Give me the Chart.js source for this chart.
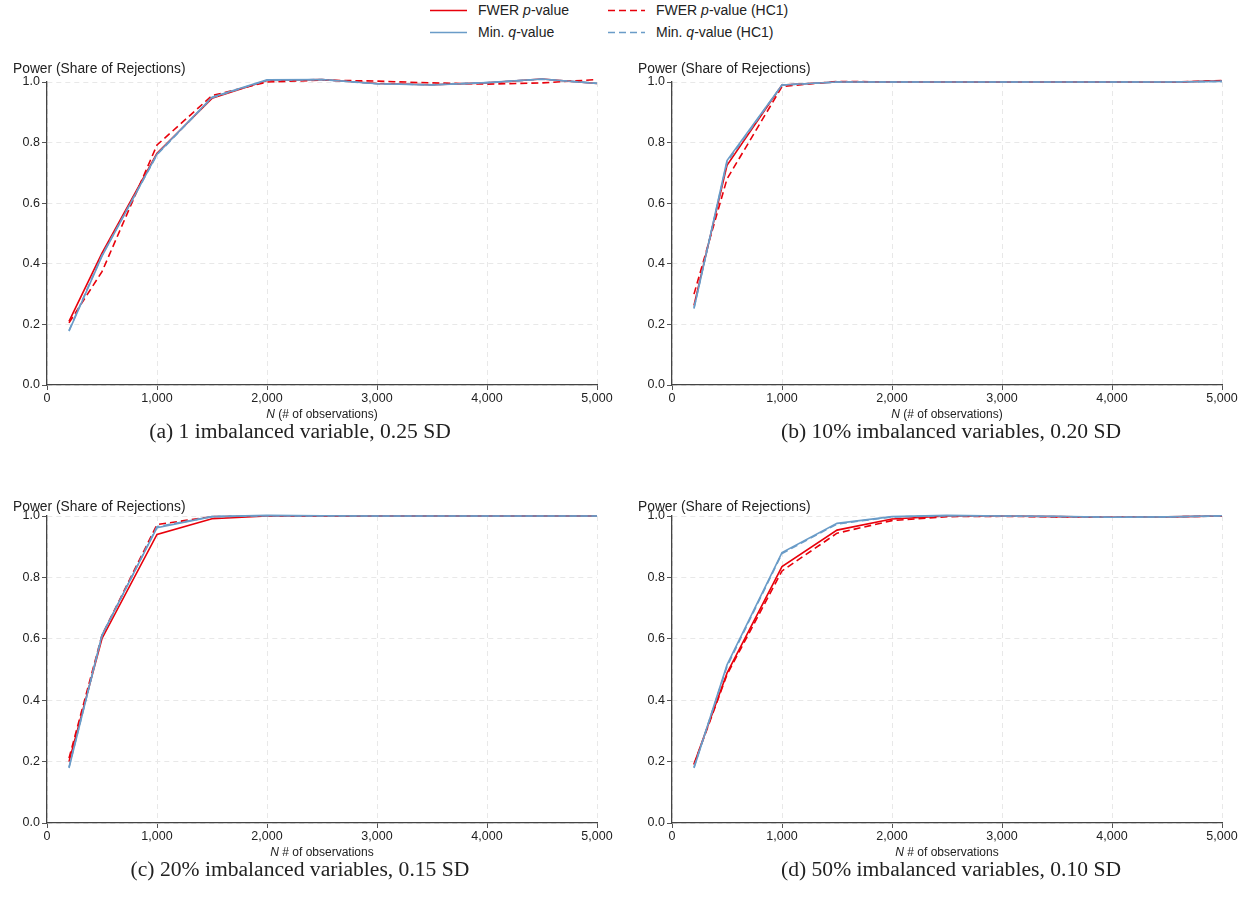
<!DOCTYPE html>
<html>
<head>
<meta charset="utf-8">
<script src="https://cdn.jsdelivr.net/npm/chart.js@4/dist/chart.umd.min.js"></script>
<style>
  body { margin: 0; background: #fff; width: 1240px; height: 910px; position: relative; overflow: hidden;
         font-family: "Liberation Sans", Arial, sans-serif; color: #222; }
  canvas { position: absolute; }
  .ytitle { position: absolute; font-size: 13.8px; line-height: 14px; white-space: nowrap; }
  .xtitle { position: absolute; font-size: 12px; text-align: center; width: 550px; white-space: nowrap; }
  .caption { position: absolute; font-family: "Liberation Serif", "DejaVu Serif", serif; font-size: 21.6px;
             text-align: center; width: 620px; white-space: nowrap; }
  #legend { position: absolute; left: 430px; top: 1px; font-size: 14px; }
  .leg { position: absolute; white-space: nowrap; line-height: 18px; }
  .leg svg { position: absolute; left: 0; top: 8px; }
  .leg span { position: absolute; left: 48px; top: 0; }
</style>
</head>
<body>

<div id="legend">
  <div class="leg" style="left:0;top:0"><svg width="40" height="3"><line x1="0" y1="1.5" x2="37" y2="1.5" stroke="#e8000b" stroke-width="1.6"/></svg><span>FWER <i>p</i>-value</span></div>
  <div class="leg" style="left:178px;top:0"><svg width="40" height="3"><line x1="0" y1="1.5" x2="37" y2="1.5" stroke="#e8000b" stroke-width="1.6" stroke-dasharray="7,4"/></svg><span>FWER <i>p</i>-value (HC1)</span></div>
  <div class="leg" style="left:0;top:22px"><svg width="40" height="3"><line x1="0" y1="1.5" x2="37" y2="1.5" stroke="#6a9cc8" stroke-width="1.6"/></svg><span>Min. <i>q</i>-value</span></div>
  <div class="leg" style="left:178px;top:22px"><svg width="40" height="3"><line x1="0" y1="1.5" x2="37" y2="1.5" stroke="#6a9cc8" stroke-width="1.6" stroke-dasharray="7,4"/></svg><span>Min. <i>q</i>-value (HC1)</span></div>
</div>

<canvas id="ca" style="left:0;top:70px" width="620" height="340"></canvas>
<canvas id="cb" style="left:625px;top:70px" width="620" height="340"></canvas>
<canvas id="cc" style="left:0;top:504px" width="620" height="344"></canvas>
<canvas id="cd" style="left:625px;top:504px" width="620" height="344"></canvas>

<div class="ytitle" style="left:13px;top:62px">Power (Share of Rejections)</div>
<div class="ytitle" style="left:638px;top:62px">Power (Share of Rejections)</div>
<div class="ytitle" style="left:13px;top:500px">Power (Share of Rejections)</div>
<div class="ytitle" style="left:638px;top:500px">Power (Share of Rejections)</div>

<div class="xtitle" style="left:47px;top:407px"><i>N</i> (# of observations)</div>
<div class="xtitle" style="left:672px;top:407px"><i>N</i> (# of observations)</div>
<div class="xtitle" style="left:47px;top:845px"><i>N</i> # of observations</div>
<div class="xtitle" style="left:672px;top:845px"><i>N</i> # of observations</div>

<div class="caption" style="left:-10px;top:419px">(a) 1 imbalanced variable, 0.25 SD</div>
<div class="caption" style="left:641px;top:419px">(b) 10% imbalanced variables, 0.20 SD</div>
<div class="caption" style="left:-10px;top:857px">(c) 20% imbalanced variables, 0.15 SD</div>
<div class="caption" style="left:641px;top:857px">(d) 50% imbalanced variables, 0.10 SD</div>

<script>
// ==========================
// DATA
// ==========================
var nObs = [200, 500, 1000, 1500, 2000, 2500, 3000, 3500, 4000, 4500, 5000];

var xTicks = [0, 1000, 2000, 3000, 4000, 5000];
var xTickLabels = ['0', '1,000', '2,000', '3,000', '4,000', '5,000'];
var yTickLabels = ['0.0', '0.2', '0.4', '0.6', '0.8', '1.0'];

// (a) 1 imbalanced variable, 0.25 SD
var aFwer    = [0.210, 0.435, 0.765, 0.946, 1.005, 1.008, 0.995, 0.991, 0.997, 1.010, 0.995];
var aFwerHc1 = [0.205, 0.374, 0.792, 0.955, 1.000, 1.006, 1.003, 0.997, 0.993, 0.997, 1.008];
var aMinQ    = [0.178, 0.425, 0.762, 0.950, 1.007, 1.008, 0.994, 0.990, 0.998, 1.010, 0.995];
var aMinQHc1 = [0.180, 0.428, 0.760, 0.948, 1.006, 1.008, 0.994, 0.991, 0.998, 1.009, 0.996];

// (b) 10% imbalanced variables, 0.20 SD
var bFwer    = [0.263, 0.725, 0.990, 1.000, 1.000, 1.000, 1.000, 1.000, 1.000, 0.999, 1.004];
var bFwerHc1 = [0.300, 0.680, 0.985, 1.002, 1.000, 1.000, 0.999, 1.000, 1.000, 0.999, 1.005];
var bMinQ    = [0.252, 0.741, 0.990, 1.000, 1.000, 1.000, 1.000, 1.000, 1.000, 1.000, 1.002];
var bMinQHc1 = [0.255, 0.735, 0.990, 1.000, 1.000, 1.000, 1.000, 1.000, 1.000, 1.000, 1.002];

// (c) 20% imbalanced variables, 0.15 SD
var cFwer    = [0.200, 0.601, 0.940, 0.991, 1.000, 1.000, 1.000, 1.000, 1.000, 1.000, 1.000];
var cFwerHc1 = [0.211, 0.612, 0.972, 0.998, 1.000, 1.000, 1.000, 1.000, 1.000, 1.000, 1.000];
var cMinQ    = [0.179, 0.612, 0.962, 0.998, 1.002, 1.001, 1.000, 1.000, 1.000, 1.000, 1.000];
var cMinQHc1 = [0.182, 0.610, 0.965, 0.998, 1.001, 1.000, 1.000, 1.000, 1.000, 1.000, 1.000];

// (d) 50% imbalanced variables, 0.10 SD
var dFwer    = [0.192, 0.488, 0.835, 0.954, 0.990, 1.000, 1.000, 0.998, 0.996, 0.997, 1.000];
var dFwerHc1 = [0.190, 0.483, 0.821, 0.944, 0.985, 0.998, 0.999, 0.997, 0.996, 0.997, 1.000];
var dMinQ    = [0.179, 0.515, 0.881, 0.976, 0.998, 1.002, 1.000, 0.999, 0.996, 0.997, 1.001];
var dMinQHc1 = [0.182, 0.510, 0.878, 0.974, 0.997, 1.001, 1.000, 0.998, 0.996, 0.997, 1.000];

// ==========================
// STYLE
// ==========================
var RED  = '#e8000b';
var BLUE = '#6a9cc8';

function pts(vals) {
  return vals.map(function(v, i) { return { x: nObs[i], y: v }; });
}

// order: lower number is drawn on top, so the blue lines sit over the red ones
function line(vals, color, dashed, order) {
  return {
    data: pts(vals),
    borderColor: color,
    backgroundColor: color,
    borderWidth: 1.6,
    borderDash: dashed ? [7, 4] : [],
    pointRadius: 0,
    tension: 0,
    clip: false,
    order: order
  };
}

function makePanel(id, fwer, fwerHc1, minQ, minQHc1) {
  new Chart(document.getElementById(id), {
    type: 'line',
    data: {
      datasets: [
        line(fwer, RED, false, 3),
        line(fwerHc1, RED, true, 2),
        line(minQ, BLUE, false, 1),
        line(minQHc1, BLUE, true, 0)
      ]
    },
    options: {
      responsive: false,
      animation: false,
      layout: { padding: { left: 7, right: 23, top: 12, bottom: 3 } },
      plugins: { legend: { display: false }, tooltip: { enabled: false } },
      scales: {
        x: {
          type: 'linear',
          min: 0, max: 5000,
          afterFit: function(s) { s.height = 22; },
          afterBuildTicks: function(s) { s.ticks = xTicks.map(function(v) { return { value: v }; }); },
          ticks: {
            color: '#222', font: { family: 'Liberation Sans', size: 12.5 }, padding: 1, maxRotation: 0,
            callback: function(v) { return xTickLabels[xTicks.indexOf(v)]; }
          },
          grid: { color: '#e8e8e8', tickColor: '#555', tickLength: 5, lineWidth: 1 },
          border: { color: '#444', width: 1.3, dash: [5, 4] }
        },
        y: {
          min: 0, max: 1,
          afterFit: function(s) { s.width = 40; },
          afterBuildTicks: function(s) { s.ticks = [0, 0.2, 0.4, 0.6, 0.8, 1].map(function(v) { return { value: v }; }); },
          ticks: {
            color: '#222', font: { family: 'Liberation Sans', size: 12.5 }, padding: 2,
            callback: function(v, i) { return yTickLabels[i]; }
          },
          grid: { color: '#e8e8e8', tickColor: '#555', tickLength: 5, lineWidth: 1 },
          border: { color: '#444', width: 1.3, dash: [5, 4] }
        }
      }
    }
  });
}

makePanel('ca', aFwer, aFwerHc1, aMinQ, aMinQHc1);
makePanel('cb', bFwer, bFwerHc1, bMinQ, bMinQHc1);
makePanel('cc', cFwer, cFwerHc1, cMinQ, cMinQHc1);
makePanel('cd', dFwer, dFwerHc1, dMinQ, dMinQHc1);
</script>
</body>
</html>
